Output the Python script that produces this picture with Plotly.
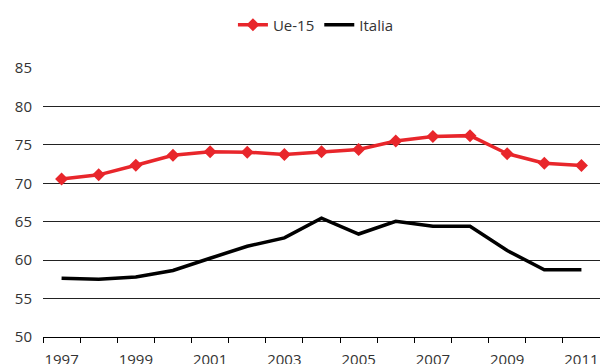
import plotly.graph_objects as go

years = list(range(1997, 2012))
ue15 = [70.55, 71.1, 72.35, 73.65, 74.1, 74.05, 73.75, 74.1, 74.4, 75.5, 76.1, 76.2, 73.85, 72.6, 72.3]
italia = [57.65, 57.5, 57.8, 58.65, 60.25, 61.8, 62.9, 65.45, 63.4, 65.05, 64.4, 64.4, 61.25, 58.75, 58.75]
yticks = [50, 55, 60, 65, 70, 75, 80, 85]
xlabels = [1997, 1999, 2001, 2003, 2005, 2007, 2009, 2011]

FONT = "Open Sans"
fig = go.Figure()
fig.add_trace(go.Scatter(x=years, y=ue15, name="Ue-15", mode="lines+markers",
                         line=dict(color="#E8262B", width=3.5),
                         marker=dict(symbol="diamond", size=10, color="#E8262B")))
fig.add_trace(go.Scatter(x=years, y=italia, name="Italia", mode="lines",
                         line=dict(color="#000000", width=3.5)))

fig.update_layout(
    width=600, height=364,
    margin=dict(l=43, r=0, t=68, b=26.5),
    paper_bgcolor="white", plot_bgcolor="white",
    font=dict(family=FONT, size=15, color="#333333"),
    showlegend=True,
    legend=dict(orientation="h", x=0.49, xanchor="center", y=1.16, yanchor="middle",
                font=dict(family=FONT, size=15, color="#333333"),
                itemwidth=30, tracegroupgap=0),
    xaxis=dict(range=[1996.5, 2011.5], tickvals=xlabels, ticktext=[str(v) for v in xlabels],
               ticks="", showgrid=False, showline=True, linecolor="#000000", linewidth=1,
               zeroline=False, ticklabelstandoff=9, automargin=False,
               minor=dict(tick0=1996.5, dtick=1, ticks="outside", ticklen=5,
                          tickcolor="#000000", tickwidth=1, showgrid=False),
               tickfont=dict(size=15, color="#333333")),
    yaxis=dict(range=[50, 85], tickvals=yticks, showgrid=True, gridcolor="#222222",
               gridwidth=1, zeroline=False, showline=False, ticks="", automargin=False,
               ticklabelstandoff=10, tickfont=dict(size=15, color="#333333")),
)
fig.write_html("out.html", config={"displayModeBar": False},
               post_script="document.body.style.margin='0';document.body.style.overflow='hidden';")
